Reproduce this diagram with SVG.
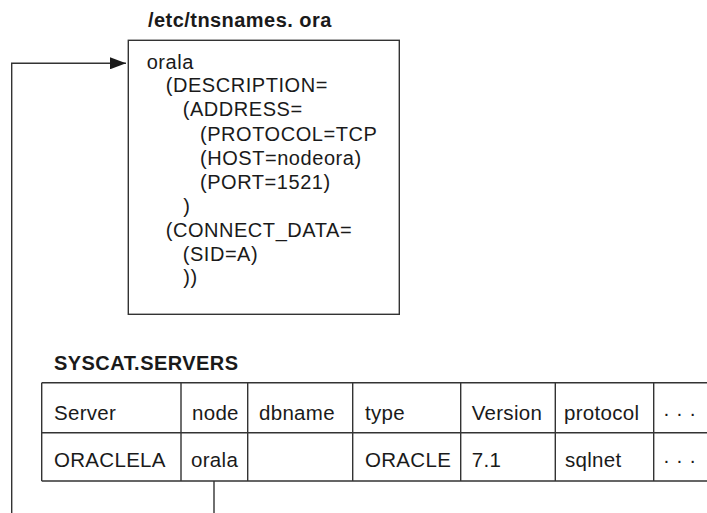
<svg xmlns="http://www.w3.org/2000/svg" width="707" height="513" viewBox="0 0 707 513">
<style>
  text { font-family: "Liberation Sans", Arial, Helvetica, sans-serif; fill: #1a1a1a; }
  .title { font-size: 20px; font-weight: bold; letter-spacing: 0.45px; }
  .code { font-size: 20px; letter-spacing: 0.55px; }
  .cell { font-size: 20.5px; letter-spacing: 0.3px; }
  .box { fill: #ffffff; stroke: #333333; stroke-width: 1.4; }
  .grid { stroke: #333333; stroke-width: 1.4; fill: none; }
  .conn { stroke: #333333; stroke-width: 1.4; fill: none; }
</style>
<defs>
  <marker id="arrow" viewBox="0 0 16 12" refX="16" refY="6" markerWidth="16" markerHeight="12" markerUnits="userSpaceOnUse" orient="auto">
    <path d="M0,0 L16,6 L0,12 Z" fill="#1a1a1a"/>
  </marker>
</defs>
<rect width="707" height="513" fill="#ffffff"/>

<g id="tnsnames">
  <text class="title" x="148" y="27">/etc/tnsnames. ora</text>
  <rect class="box" x="128.3" y="40.3" width="271" height="274"/>
  <text class="code" x="146.7" y="68.5">orala</text>
  <text class="code" x="165.7" y="92.3">(DESCRIPTION=</text>
  <text class="code" x="182.7" y="116">(ADDRESS=</text>
  <text class="code" x="200" y="140.5">(PROTOCOL=TCP</text>
  <text class="code" x="200" y="164.5">(HOST=nodeora)</text>
  <text class="code" x="200" y="188.5">(PORT=1521)</text>
  <text class="code" x="183.3" y="212.5">)</text>
  <text class="code" x="165.7" y="236.5">(CONNECT_DATA=</text>
  <text class="code" x="182.7" y="260.5">(SID=A)</text>
  <text class="code" x="183.3" y="284">))</text>
</g>

<g id="syscat-servers">
  <text class="title" x="54" y="369.5">SYSCAT.SERVERS</text>
  <path class="grid" d="M41.7,382.7 H707 M41.7,432.7 H707 M41.7,481 H707 M41.7,382.7 V481 M181,382.7 V481 M247.7,382.7 V481 M352.7,382.7 V481 M460.7,382.7 V481 M555.3,382.7 V481 M653.7,382.7 V481"/>
  <text class="cell" x="54" y="419.5">Server</text>
  <text class="cell" x="192" y="419.5">node</text>
  <text class="cell" x="259" y="419.5">dbname</text>
  <text class="cell" x="365" y="419.5">type</text>
  <text class="cell" x="471.7" y="419.5">Version</text>
  <text class="cell" x="564" y="419.5">protocol</text>
  <text class="cell" x="663" y="419.5">· · ·</text>
  <text class="cell" x="54" y="467">ORACLELA</text>
  <text class="cell" x="191" y="467">orala</text>
  <text class="cell" x="365" y="467">ORACLE</text>
  <text class="cell" x="471.7" y="467">7.1</text>
  <text class="cell" x="565" y="467">sqlnet</text>
  <text class="cell" x="663" y="467">· · ·</text>
</g>

<g id="connectors">
  <path class="conn" d="M214,481 V513"/>
  <path class="conn" d="M11.7,513 V63.3 H126" marker-end="url(#arrow)"/>
</g>
</svg>
